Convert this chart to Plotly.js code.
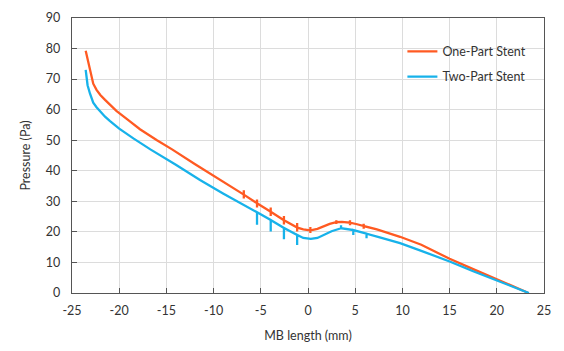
<!DOCTYPE html>
<html>
<head>
<meta charset="utf-8">
<script src="https://cdn.plot.ly/plotly-3.0.1.min.js"></script>
<style>html,body{margin:0;padding:0;background:#fff;}#chart{width:564px;height:351px;}</style>
</head>
<body>
<div id="chart"></div>
<script>
// One-Part Stent (orange); repeated x values are the short vertical spikes in the curve
const oneX = [-23.55, -23.2, -22.75, -22.4, -22.0, -21.5, -21.0, -20.3, -19.0, -17.8, -16.0, -14.4, -12.0, -10.0, -8.0,
  -6.8, -6.8, -6.8, -6.8,
  -5.4, -5.4, -5.4, -5.4,
  -3.95, -3.95, -3.95, -3.95,
  -2.55, -2.55, -2.55, -2.55,
  -1.15, -1.15, -1.15, -1.15,
  -0.5,
  0.25, 0.25, 0.25, 0.25,
  1.0, 1.6, 2.3,
  3.0, 3.0, 3.0, 3.0,
  3.6,
  4.45, 4.45, 4.45, 4.45,
  5.2,
  5.9, 5.9, 5.9, 5.9,
  7.3, 9.75, 12.0, 15.0, 17.5, 20.0, 22.0, 23.3];
const oneY = [79.3, 74.5, 68.5, 66.5, 64.8, 63.2, 61.7, 59.6, 56.5, 53.6, 50.0, 47.0, 42.2, 38.3, 34.5,
  32.2, 33.6, 30.9, 32.2,
  29.4, 30.6, 28.0, 29.4,
  26.6, 28.0, 25.2, 26.6,
  23.8, 25.2, 22.4, 23.8,
  21.4, 22.9, 20.1, 21.4,
  20.8,
  20.5, 21.6, 19.6, 20.5,
  21.0, 21.8, 22.6,
  23.2, 23.8, 22.6, 23.2,
  23.3,
  23.0, 23.8, 22.2, 23.0,
  22.5,
  21.9, 22.7, 21.0, 21.9,
  20.8, 18.4, 15.8, 11.2, 7.8, 4.4, 1.8, 0.1];

// Two-Part Stent (blue)
const twoX = [-23.55, -23.35, -23.1, -22.75, -22.4, -22.0, -21.5, -21.0, -20.5, -20.0, -18.5, -16.7, -14.0, -11.44, -9.0, -7.0,
  -5.4, -5.4, -5.4,
  -3.95, -3.95, -3.95,
  -2.55, -2.55, -2.55,
  -1.15, -1.15, -1.15,
  -0.5, 0.3, 1.0, 1.6, 2.5,
  3.5, 3.5, 3.5,
  4.8, 4.8, 4.8,
  6.2, 6.2, 6.2,
  7.6, 9.75, 12.0, 15.0, 17.5, 20.0, 22.0, 23.4];
const twoY = [73.0, 68.0, 65.3, 62.3, 60.8, 59.3, 57.7, 56.3, 55.0, 53.8, 50.6, 47.0, 42.0, 37.0, 32.6, 29.0,
  26.4, 22.3, 26.4,
  23.9, 20.1, 23.9,
  21.3, 17.6, 21.3,
  19.0, 15.7, 19.0,
  18.0, 17.7, 18.0, 18.9, 20.2,
  21.2, 22.2, 21.2,
  20.6, 19.0, 20.6,
  19.4, 17.9, 19.4,
  18.2, 16.3, 13.8, 10.3, 7.1, 4.0, 1.5, 0.0];

const seriesNames = ['One-Part Stent', 'Two-Part Stent'];
const xTicks = [-25, -20, -15, -10, -5, 0, 5, 10, 15, 20, 25];
const yTicks = [0, 10, 20, 30, 40, 50, 60, 70, 80, 90];

const font = 'Lato, "Open Sans", "DejaVu Sans", sans-serif';
const traces = [
  {x: oneX, y: oneY, name: seriesNames[0], legendgroup: 'a', mode: 'lines', line: {color: '#ff5a22', width: 2.3}},
  {x: twoX, y: twoY, name: seriesNames[1], legendgroup: 'b', mode: 'lines', line: {color: '#17b2ea', width: 2.3}}
];
const axisCommon = {
  showline: true, linecolor: '#555', linewidth: 1.3, mirror: true,
  showgrid: true, gridcolor: '#dcdcdc', gridwidth: 1,
  ticks: 'inside', ticklen: 5, tickcolor: '#555', tickwidth: 1,
  zeroline: false, tickfont: {family: font, size: 12.5, color: '#333'}
};
const layout = {
  width: 564, height: 351,
  margin: {l: 72, r: 20, t: 18, b: 58},
  paper_bgcolor: '#fff', plot_bgcolor: '#fff',
  showlegend: true,
  legend: {x: 0.7, y: 0.932, xanchor: 'left', yanchor: 'top', bgcolor: 'rgba(0,0,0,0)',
    traceorder: 'grouped', tracegroupgap: 6,
    font: {family: font, size: 12.5, color: '#333'}, itemwidth: 30},
  xaxis: Object.assign({}, axisCommon, {
    range: [-25, 25], tickvals: xTicks, ticktext: xTicks.map(String),
    ticklabelstandoff: 6,
    title: {text: 'MB length (mm)', font: {family: font, size: 12.5, color: '#333'}, standoff: 14}
  }),
  yaxis: Object.assign({}, axisCommon, {
    range: [0, 90], tickvals: yTicks, ticktext: yTicks.map(String),
    ticklabelstandoff: 8,
    title: {text: 'Pressure (Pa)', font: {family: font, size: 12.5, color: '#333'}, standoff: 12}
  })
};
Plotly.newPlot('chart', traces, layout, {staticPlot: true, displayModeBar: false});
</script>
</body>
</html>
